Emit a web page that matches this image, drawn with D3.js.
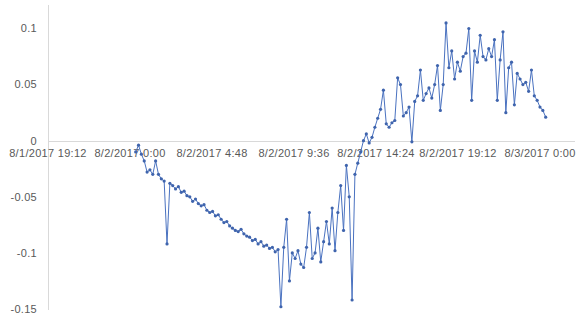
<!DOCTYPE html>
<html>
<head>
<meta charset="utf-8">
<script src="https://cdn.jsdelivr.net/npm/d3@7"></script>
<style>
  body { margin: 0; background: #fff; }
  svg { display: block; }
</style>
</head>
<body>
<div id="chart"></div>
<script>
// readings every 10 minutes, from 8/2/2017 0:20 to 8/3/2017 0:20
const startTime = new Date(2017, 7, 2, 0, 20);
const stepMinutes = 10;
const values = [
  -0.010, -0.004, -0.012, -0.018, -0.028, -0.026, -0.030, -0.018, -0.030, -0.034,
  -0.036, -0.092, -0.038, -0.040, -0.043, -0.041, -0.046, -0.045, -0.049, -0.050,
  -0.054, -0.052, -0.056, -0.058, -0.057, -0.062, -0.064, -0.063, -0.067, -0.066,
  -0.070, -0.073, -0.072, -0.076, -0.078, -0.080, -0.081, -0.079, -0.083, -0.085,
  -0.086, -0.089, -0.088, -0.092, -0.090, -0.094, -0.093, -0.096, -0.095, -0.099,
  -0.097, -0.148, -0.095, -0.070, -0.125, -0.100, -0.105, -0.098, -0.110, -0.113,
  -0.095, -0.064, -0.105, -0.100, -0.078, -0.108, -0.090, -0.072, -0.092, -0.060,
  -0.098, -0.064, -0.040, -0.080, -0.022, -0.050, -0.142, -0.030, -0.020, -0.010,
   0.000,  0.006, -0.002,  0.003,  0.012,  0.020,  0.028,  0.045,  0.015,  0.012,
   0.016,  0.018,  0.056,  0.050,  0.022,  0.025,  0.030, -0.001,  0.035,  0.040,
   0.063,  0.036,  0.042,  0.047,  0.038,  0.050,  0.067,  0.027,  0.050,  0.105,
   0.065,  0.080,  0.055,  0.070,  0.062,  0.075,  0.078,  0.100,  0.036,  0.080,
   0.070,  0.094,  0.075,  0.072,  0.082,  0.075,  0.090,  0.036,  0.072,  0.097,
   0.025,  0.065,  0.070,  0.032,  0.060,  0.055,  0.050,  0.052,  0.044,  0.063,
   0.040,  0.036,  0.030,  0.027,  0.021
];

const tickDates = [
  new Date(2017, 7, 1, 19, 12),
  new Date(2017, 7, 2, 0, 0),
  new Date(2017, 7, 2, 4, 48),
  new Date(2017, 7, 2, 9, 36),
  new Date(2017, 7, 2, 14, 24),
  new Date(2017, 7, 2, 19, 12),
  new Date(2017, 7, 3, 0, 0)
];
const tickLabels = ["8/1/2017 19:12", "8/2/2017 0:00", "8/2/2017 4:48", "8/2/2017 9:36",
  "8/2/2017 14:24", "8/2/2017 19:12", "8/3/2017 0:00"];
const yTicks = [0.1, 0.05, 0, -0.05, -0.1, -0.15];

const width = 581, height = 318;
const blue = "#4a72c0";

const data = values.map((v, i) => ({
  date: new Date(startTime.getTime() + i * stepMinutes * 60000),
  value: v
}));

const x = d3.scaleTime()
  .domain([tickDates[0], tickDates[tickDates.length - 1]])
  .range([48, 540]);

const y = d3.scaleLinear()
  .domain([-0.15, 0.1])
  .range([309, 28.5]);

const svg = d3.select("#chart").append("svg")
  .attr("width", width)
  .attr("height", height)
  .attr("viewBox", [0, 0, width, height])
  .style("font-family", "'Liberation Sans', Arial, sans-serif");

// value axis line + labels
svg.append("line")
  .attr("x1", 48.5).attr("x2", 48.5)
  .attr("y1", 5).attr("y2", 310)
  .attr("stroke", "#d9d9d9");

svg.append("g")
  .selectAll("text")
  .data(yTicks)
  .join("text")
  .attr("x", 37)
  .attr("y", d => y(d))
  .attr("dy", "0.35em")
  .attr("text-anchor", "end")
  .attr("font-size", 11)
  .attr("letter-spacing", 0.3)
  .attr("fill", "#595959")
  .text(d => d === 0 ? "0" : String(d));

// category axis sits at zero
svg.append("line")
  .attr("x1", 48).attr("x2", 575)
  .attr("y1", Math.round(y(0)) + 0.5).attr("y2", Math.round(y(0)) + 0.5)
  .attr("stroke", "#d9d9d9");

svg.append("g")
  .selectAll("text")
  .data(tickDates)
  .join("text")
  .attr("x", d => x(d))
  .attr("y", y(0) + 16)
  .attr("text-anchor", "middle")
  .attr("font-size", 11)
  .attr("letter-spacing", 0.3)
  .attr("fill", "#595959")
  .text((d, i) => tickLabels[i]);

const line = d3.line()
  .x(d => x(d.date))
  .y(d => y(d.value));

svg.append("path")
  .datum(data)
  .attr("fill", "none")
  .attr("stroke", blue)
  .attr("stroke-width", 1)
  .attr("d", line);

svg.append("g")
  .selectAll("circle")
  .data(data)
  .join("circle")
  .attr("cx", d => x(d.date))
  .attr("cy", d => y(d.value))
  .attr("r", 1.6)
  .attr("fill", "#3f64ad");
</script>
</body>
</html>
